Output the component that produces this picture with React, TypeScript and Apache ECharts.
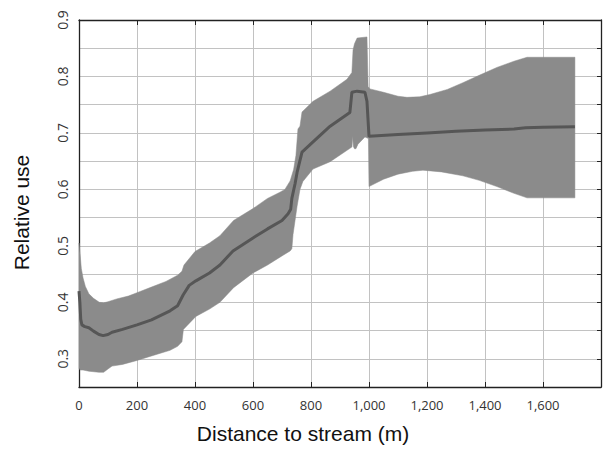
import React, { useEffect, useRef } from "react";
import * as echarts from "echarts";

// Upper edge of the confidence band (distance m, relative use)
const upperX = [0, 3, 8, 14, 22, 34, 50, 70, 85, 100, 130, 170, 200, 250, 300, 340, 355, 362, 400, 450, 486, 533, 600, 650, 693, 710, 728, 740, 748, 755, 762, 769, 807, 866, 924, 941, 945, 950, 959, 993, 997, 1003, 1050, 1100, 1131, 1175, 1210, 1270, 1324, 1380, 1441, 1500, 1545, 1710];
const upperY = [0.505, 0.49, 0.46, 0.443, 0.428, 0.415, 0.407, 0.4, 0.399, 0.401, 0.406, 0.411, 0.417, 0.427, 0.437, 0.448, 0.455, 0.466, 0.49, 0.505, 0.518, 0.545, 0.566, 0.584, 0.595, 0.6, 0.615, 0.635, 0.66, 0.707, 0.712, 0.737, 0.756, 0.774, 0.795, 0.807, 0.847, 0.858, 0.868, 0.87, 0.782, 0.778, 0.772, 0.765, 0.763, 0.764, 0.768, 0.777, 0.789, 0.802, 0.816, 0.827, 0.834, 0.834];

// Lower edge of the confidence band
const lowerX = [0, 4, 14, 34, 69, 85, 100, 114, 150, 200, 250, 314, 340, 355, 360, 403, 450, 486, 533, 600, 650, 693, 728, 734, 738, 745, 752, 762, 772, 807, 866, 941, 944, 946, 950, 955, 962, 986, 998, 1000, 1050, 1100, 1150, 1186, 1250, 1324, 1380, 1441, 1500, 1545, 1710];
const lowerY = [0.283, 0.28, 0.28, 0.278, 0.276, 0.276, 0.282, 0.287, 0.29, 0.297, 0.305, 0.315, 0.322, 0.33, 0.352, 0.375, 0.388, 0.4, 0.426, 0.452, 0.466, 0.48, 0.491, 0.495, 0.52, 0.545, 0.57, 0.6, 0.614, 0.636, 0.649, 0.675, 0.694, 0.676, 0.672, 0.672, 0.68, 0.693, 0.69, 0.605, 0.618, 0.627, 0.632, 0.634, 0.631, 0.624, 0.616, 0.605, 0.593, 0.585, 0.585];

// Mean relative use
const meanX = [0, 3, 6, 10, 20, 34, 50, 69, 83, 100, 114, 150, 200, 250, 314, 340, 359, 380, 403, 450, 486, 531, 600, 650, 700, 721, 730, 734, 745, 752, 769, 807, 866, 934, 941, 959, 986, 993, 1000, 1100, 1200, 1300, 1400, 1500, 1540, 1600, 1710];
const meanY = [0.42, 0.4, 0.37, 0.36, 0.357, 0.355, 0.349, 0.343, 0.341, 0.343, 0.347, 0.352, 0.36, 0.369, 0.385, 0.394, 0.413, 0.43, 0.438, 0.452, 0.466, 0.491, 0.514, 0.53, 0.545, 0.557, 0.565, 0.584, 0.61, 0.63, 0.666, 0.684, 0.712, 0.736, 0.772, 0.774, 0.772, 0.756, 0.694, 0.697, 0.7, 0.703, 0.705, 0.707, 0.709, 0.71, 0.711];

const xMin = 0;
const xMax = 1800;
const xStep = 200;
const yMin = 0.25;
const yMax = 0.9;
const yStep = 0.05;

export default function App() {
  const ref = useRef<HTMLDivElement>(null);

  useEffect(() => {
    if (!ref.current) return;
    const chart = echarts.init(ref.current, undefined, { renderer: "svg" });

    const bandPoly: number[][] = [
      ...upperX.map((x, i) => [x, upperY[i]]),
      ...lowerX.map((x, i) => [x, lowerY[i]]).reverse(),
    ];
    const meanData = meanX.map((x, i) => [x, meanY[i]]);

    const axisColor = "#222";
    const gridColor = "#c2c2c2";

    chart.setOption({
      animation: false,
      backgroundColor: "#ffffff",
      grid: { left: 79, right: 6, top: 20, bottom: 59, containLabel: false },
      xAxis: [
        {
          type: "value",
          min: xMin,
          max: xMax,
          interval: xStep,
          position: "bottom",
          name: "Distance to stream (m)",
          nameLocation: "middle",
          nameGap: 36,
          nameTextStyle: {
            fontFamily: "Liberation Sans",
            fontSize: 21,
            color: "#111",
            padding: [0, 74, 0, 0],
          },
          axisLine: { show: true, onZero: false, lineStyle: { color: axisColor, width: 1.3 } },
          axisTick: { show: true, inside: true, length: 5, lineStyle: { color: axisColor } },
          axisLabel: {
            fontFamily: "Open Sans",
            fontSize: 13,
            color: "#333",
            margin: 11,
            formatter: (v: number) => (v >= xMax ? "" : v.toLocaleString("en-US")),
          },
          splitLine: { show: true, lineStyle: { color: gridColor, width: 1 } },
        },
        {
          type: "value",
          min: xMin,
          max: xMax,
          interval: xStep,
          position: "top",
          axisLine: { show: true, onZero: false, lineStyle: { color: axisColor, width: 1.3 } },
          axisTick: { show: true, inside: true, length: 5, lineStyle: { color: axisColor } },
          axisLabel: { show: false },
          splitLine: { show: false },
        },
      ],
      yAxis: [
        {
          type: "value",
          min: yMin,
          max: yMax,
          interval: yStep,
          position: "left",
          name: "Relative use",
          nameLocation: "middle",
          nameGap: 47,
          nameTextStyle: {
            fontFamily: "Liberation Sans",
            fontSize: 21,
            color: "#111",
            padding: [0, 18, 0, 0],
          },
          axisLine: { show: true, onZero: false, lineStyle: { color: axisColor, width: 1.3 } },
          axisTick: { show: false },
          axisLabel: {
            rotate: 90,
            fontFamily: "Open Sans",
            fontSize: 14,
            color: "#333",
            margin: 10,
            formatter: (v: number) => {
              const t = v * 10;
              return Math.abs(t - Math.round(t)) < 1e-6 ? v.toFixed(1) : "";
            },
          },
          splitLine: { show: true, lineStyle: { color: gridColor, width: 1 } },
        },
        {
          type: "value",
          min: yMin,
          max: yMax,
          interval: yStep,
          position: "right",
          axisLine: { show: true, onZero: false, lineStyle: { color: axisColor, width: 1.3 } },
          axisTick: { show: true, inside: true, length: 4, lineStyle: { color: axisColor } },
          axisLabel: { show: false },
          splitLine: { show: false },
        },
      ],
      series: [
        {
          type: "custom",
          xAxisIndex: 0,
          yAxisIndex: 0,
          data: bandPoly,
          encode: { x: 0, y: 1 },
          z: 2,
          silent: true,
          renderItem: (params: any, api: any) => {
            if (params.dataIndex !== 0) return null;
            const pts = bandPoly.map((p) => api.coord(p));
            return {
              type: "polygon",
              shape: { points: pts },
              style: { fill: "#8b8b8b", stroke: "#8b8b8b", lineWidth: 0.5 },
            };
          },
        },
        {
          type: "line",
          xAxisIndex: 0,
          yAxisIndex: 0,
          data: meanData,
          showSymbol: false,
          symbol: "none",
          z: 3,
          lineStyle: { color: "#565656", width: 3 },
        },
      ],
    });

    return () => chart.dispose();
  }, []);

  return (
    <div
      ref={ref}
      style={{ position: "fixed", left: 0, top: 0, width: 607, height: 449, background: "#fff" }}
    />
  );
}
